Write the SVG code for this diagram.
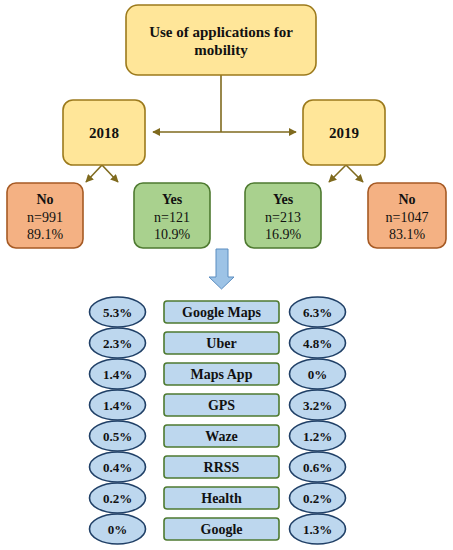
<svg xmlns="http://www.w3.org/2000/svg" width="453" height="550" viewBox="0 0 453 550">
<defs>
<marker id="ah" viewBox="0 0 10 10" refX="9" refY="5" markerWidth="5" markerHeight="5" orient="auto-start-reverse">
<path d="M0,0 L10,5 L0,10 z" fill="#7F6A1E"/>
</marker>
<style>
text{font-family:"Liberation Serif","Times New Roman",serif;fill:#111;text-anchor:middle}
.b{font-weight:bold}
.yel{fill:#FFE699;stroke:#9C7A1C;stroke-width:1.6}
.org{fill:#F4B183;stroke:#A65A24;stroke-width:1.6}
.grn{fill:#A9D18E;stroke:#4E7A30;stroke-width:1.6}
.app{fill:#BDD7EE;stroke:#4E7A30;stroke-width:1.6}
.pct{fill:#BDD7EE;stroke:#1F3F66;stroke-width:1.6}
.con{stroke:#7F6A1E;stroke-width:1.6;fill:none}
.t15{font-size:15px}
.t14{font-size:14px}
.t13{font-size:13px}
</style>
</defs>
<rect width="453" height="550" fill="#fff"/>
<g id="connectors">
<path class="con" d="M221,75 V132"/>
<path class="con" d="M153,132 H296" marker-start="url(#ah)" marker-end="url(#ah)"/>
<path class="con" d="M102,165 L86,182" marker-end="url(#ah)"/>
<path class="con" d="M102,165 L118,182" marker-end="url(#ah)"/>
<path class="con" d="M346,165 L329,182" marker-end="url(#ah)"/>
<path class="con" d="M346,165 L363,182" marker-end="url(#ah)"/>
<path d="M216,249 H228 V277 H234 L221.5,289 L209,277 H216 Z" fill="#9DC3E6" stroke="#5B8DC0" stroke-width="1"/>
</g>
<g id="root">
<rect class="yel" x="126" y="5" width="190" height="70" rx="12"/>
<text class="b t15" x="221" y="37">Use of applications for</text>
<text class="b t15" x="221" y="55">mobility</text>
</g>
<g id="y2018">
<rect class="yel" x="63" y="100" width="82" height="65" rx="10"/>
<text class="b t15" x="104" y="138">2018</text>
</g>
<g id="y2019">
<rect class="yel" x="303" y="100" width="82" height="65" rx="10"/>
<text class="b t15" x="344" y="138">2019</text>
</g>
<g id="no2018">
<rect class="org" x="7" y="183" width="76" height="65" rx="9"/>
<text class="b t14" x="45" y="204">No</text>
<text class="t14" x="45" y="222">n=991</text>
<text class="t14" x="45" y="239">89.1%</text>
</g>
<g id="yes2018">
<rect class="grn" x="134" y="183" width="76" height="65" rx="9"/>
<text class="b t14" x="172" y="204">Yes</text>
<text class="t14" x="172" y="222">n=121</text>
<text class="t14" x="172" y="239">10.9%</text>
</g>
<g id="yes2019">
<rect class="grn" x="245" y="183" width="76" height="65" rx="9"/>
<text class="b t14" x="283" y="204">Yes</text>
<text class="t14" x="283" y="222">n=213</text>
<text class="t14" x="283" y="239">16.9%</text>
</g>
<g id="no2019">
<rect class="org" x="368" y="183" width="78" height="65" rx="9"/>
<text class="b t14" x="407" y="204">No</text>
<text class="t14" x="407" y="222">n=1047</text>
<text class="t14" x="407" y="239">83.1%</text>
</g>
<g id="r1">
<ellipse class="pct" cx="117.5" cy="312" rx="28" ry="15"/>
<text class="b t13" x="117.5" y="316.5">5.3%</text>
<rect class="app" x="164" y="301" width="115" height="22" rx="3"/>
<text class="b t14" x="221.5" y="317">Google Maps</text>
<ellipse class="pct" cx="317.5" cy="312" rx="28" ry="15"/>
<text class="b t13" x="317.5" y="316.5">6.3%</text>
</g>
<g id="r2">
<ellipse class="pct" cx="117.5" cy="343" rx="28" ry="15"/>
<text class="b t13" x="117.5" y="347.5">2.3%</text>
<rect class="app" x="164" y="332" width="115" height="22" rx="3"/>
<text class="b t14" x="221.5" y="348">Uber</text>
<ellipse class="pct" cx="317.5" cy="343" rx="28" ry="15"/>
<text class="b t13" x="317.5" y="347.5">4.8%</text>
</g>
<g id="r3">
<ellipse class="pct" cx="117.5" cy="374" rx="28" ry="15"/>
<text class="b t13" x="117.5" y="378.5">1.4%</text>
<rect class="app" x="164" y="363" width="115" height="22" rx="3"/>
<text class="b t14" x="221.5" y="379">Maps App</text>
<ellipse class="pct" cx="317.5" cy="374" rx="28" ry="15"/>
<text class="b t13" x="317.5" y="378.5">0%</text>
</g>
<g id="r4">
<ellipse class="pct" cx="117.5" cy="405" rx="28" ry="15"/>
<text class="b t13" x="117.5" y="409.5">1.4%</text>
<rect class="app" x="164" y="394" width="115" height="22" rx="3"/>
<text class="b t14" x="221.5" y="410">GPS</text>
<ellipse class="pct" cx="317.5" cy="405" rx="28" ry="15"/>
<text class="b t13" x="317.5" y="409.5">3.2%</text>
</g>
<g id="r5">
<ellipse class="pct" cx="117.5" cy="436" rx="28" ry="15"/>
<text class="b t13" x="117.5" y="440.5">0.5%</text>
<rect class="app" x="164" y="425" width="115" height="22" rx="3"/>
<text class="b t14" x="221.5" y="441">Waze</text>
<ellipse class="pct" cx="317.5" cy="436" rx="28" ry="15"/>
<text class="b t13" x="317.5" y="440.5">1.2%</text>
</g>
<g id="r6">
<ellipse class="pct" cx="117.5" cy="467" rx="28" ry="15"/>
<text class="b t13" x="117.5" y="471.5">0.4%</text>
<rect class="app" x="164" y="456" width="115" height="22" rx="3"/>
<text class="b t14" x="221.5" y="472">RRSS</text>
<ellipse class="pct" cx="317.5" cy="467" rx="28" ry="15"/>
<text class="b t13" x="317.5" y="471.5">0.6%</text>
</g>
<g id="r7">
<ellipse class="pct" cx="117.5" cy="498" rx="28" ry="15"/>
<text class="b t13" x="117.5" y="502.5">0.2%</text>
<rect class="app" x="164" y="487" width="115" height="22" rx="3"/>
<text class="b t14" x="221.5" y="503">Health</text>
<ellipse class="pct" cx="317.5" cy="498" rx="28" ry="15"/>
<text class="b t13" x="317.5" y="502.5">0.2%</text>
</g>
<g id="r8">
<ellipse class="pct" cx="117.5" cy="529" rx="28" ry="15"/>
<text class="b t13" x="117.5" y="533.5">0%</text>
<rect class="app" x="164" y="518" width="115" height="22" rx="3"/>
<text class="b t14" x="221.5" y="534">Google</text>
<ellipse class="pct" cx="317.5" cy="529" rx="28" ry="15"/>
<text class="b t13" x="317.5" y="533.5">1.3%</text>
</g>
</svg>
